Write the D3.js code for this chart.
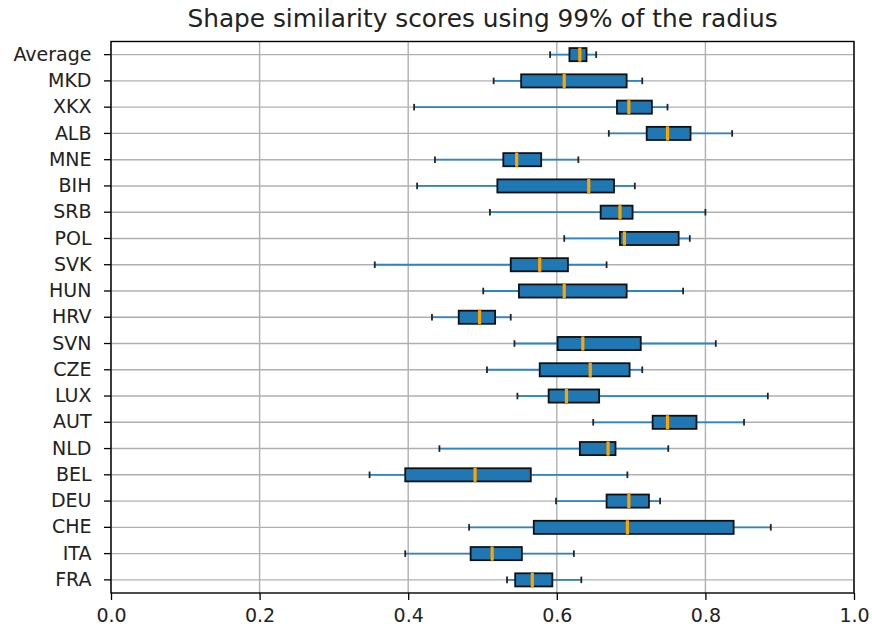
<!DOCTYPE html>
<html>
<head>
<meta charset="utf-8">
<script src="https://cdn.jsdelivr.net/npm/d3@7"></script>
<style>
  html, body { margin: 0; padding: 0; background: #fff; }
  svg { display: block; font-family: "DejaVu Sans", sans-serif; }
</style>
</head>
<body>
<svg id="chart" width="872" height="631"></svg>
<script>
// Countries, listed top to bottom
const categories = ["Average", "MKD", "XKX", "ALB", "MNE", "BIH", "SRB", "POL", "SVK", "HUN",
  "HRV", "SVN", "CZE", "LUX", "AUT", "NLD", "BEL", "DEU", "CHE", "ITA", "FRA"];

// Five-number summaries per country
const whiskerLow = [0.591, 0.515, 0.408, 0.670, 0.436, 0.412, 0.510, 0.610, 0.355, 0.501,
  0.432, 0.543, 0.506, 0.547, 0.649, 0.442, 0.348, 0.599, 0.482, 0.396, 0.533];
const q1 = [0.617, 0.552, 0.681, 0.721, 0.528, 0.520, 0.659, 0.685, 0.538, 0.549,
  0.468, 0.601, 0.577, 0.589, 0.729, 0.631, 0.396, 0.667, 0.569, 0.484, 0.544];
const medians = [0.631, 0.610, 0.697, 0.749, 0.546, 0.643, 0.685, 0.691, 0.577, 0.610,
  0.496, 0.635, 0.645, 0.613, 0.749, 0.669, 0.490, 0.697, 0.695, 0.513, 0.567];
const q3 = [0.640, 0.694, 0.728, 0.780, 0.579, 0.677, 0.702, 0.764, 0.615, 0.694,
  0.517, 0.713, 0.698, 0.657, 0.788, 0.679, 0.565, 0.724, 0.838, 0.553, 0.594];
const whiskerHigh = [0.653, 0.715, 0.749, 0.836, 0.629, 0.705, 0.800, 0.779, 0.667, 0.770,
  0.538, 0.814, 0.715, 0.884, 0.852, 0.750, 0.695, 0.739, 0.888, 0.623, 0.633];

const xTicks = [0, 0.2, 0.4, 0.6, 0.8, 1.0];
const titleText = "Shape similarity scores using 99% of the radius";

const rows = categories.map((c, i) => ({
  name: c, lo: whiskerLow[i], q1: q1[i], med: medians[i], q3: q3[i], hi: whiskerHigh[i]
}));

const margin = { left: 111, right: 18, top: 41.5, bottom: 38 };
const W = 872, H = 631;
const svg = d3.select("#chart");

const x = d3.scaleLinear().domain([0, 1]).range([margin.left, W - margin.right]);
const y = d3.scaleBand().domain(categories).range([margin.top, H - margin.bottom]).padding(0);
const step = y.step();
const cy = d => y(d) + step / 2;
const boxH = step * 0.5;
const capH = step * 0.25;

const plot = svg.append("g");

// Grid lines
plot.append("g").selectAll("line").data(xTicks).join("line")
  .attr("x1", d => x(d)).attr("x2", d => x(d))
  .attr("y1", margin.top).attr("y2", H - margin.bottom)
  .attr("stroke", "#b0b0b0").attr("stroke-width", 1.4);
plot.append("g").selectAll("line").data(categories).join("line")
  .attr("x1", margin.left).attr("x2", W - margin.right)
  .attr("y1", d => cy(d)).attr("y2", d => cy(d))
  .attr("stroke", "#b0b0b0").attr("stroke-width", 1.4);

const g = plot.append("g").selectAll("g").data(rows).join("g");

// Whiskers
g.append("line").attr("x1", d => x(d.lo)).attr("x2", d => x(d.q1))
  .attr("y1", d => cy(d.name)).attr("y2", d => cy(d.name))
  .attr("stroke", "#2a84c6").attr("stroke-width", 1.8);
g.append("line").attr("x1", d => x(d.q3)).attr("x2", d => x(d.hi))
  .attr("y1", d => cy(d.name)).attr("y2", d => cy(d.name))
  .attr("stroke", "#2a84c6").attr("stroke-width", 1.8);

// Caps
g.append("line").attr("x1", d => x(d.lo)).attr("x2", d => x(d.lo))
  .attr("y1", d => cy(d.name) - capH / 2).attr("y2", d => cy(d.name) + capH / 2)
  .attr("stroke", "#222").attr("stroke-width", 1.8);
g.append("line").attr("x1", d => x(d.hi)).attr("x2", d => x(d.hi))
  .attr("y1", d => cy(d.name) - capH / 2).attr("y2", d => cy(d.name) + capH / 2)
  .attr("stroke", "#222").attr("stroke-width", 1.8);

// Boxes
g.append("rect")
  .attr("x", d => x(d.q1)).attr("width", d => x(d.q3) - x(d.q1))
  .attr("y", d => cy(d.name) - boxH / 2).attr("height", boxH)
  .attr("fill", "#1f77b4").attr("stroke", "#111").attr("stroke-width", 1.8);

// Medians
g.append("line").attr("x1", d => x(d.med)).attr("x2", d => x(d.med))
  .attr("y1", d => cy(d.name) - boxH / 2 - 0.5).attr("y2", d => cy(d.name) + boxH / 2 + 0.5)
  .attr("stroke", "#ffa500").attr("stroke-width", 3.2);

// Axes
const xAxis = d3.axisBottom(x).tickValues(xTicks).tickFormat(d3.format(".1f"))
  .tickSize(7).tickPadding(9);
const yAxis = d3.axisLeft(y).tickSize(7).tickPadding(12.5);

const gx = svg.append("g").attr("transform", `translate(0,${H - margin.bottom})`).call(xAxis);
const gy = svg.append("g").attr("transform", `translate(${margin.left},0)`).call(yAxis);
[gx, gy].forEach(a => {
  a.select(".domain").remove();
  a.selectAll(".tick line").attr("stroke", "#000").attr("stroke-width", 1.3);
  a.selectAll(".tick text").attr("fill", "#222").style("font-size", "19px")
    .style("font-family", "'DejaVu Sans', sans-serif");
});

// Frame
svg.append("rect")
  .attr("x", margin.left).attr("y", margin.top)
  .attr("width", W - margin.right - margin.left).attr("height", H - margin.bottom - margin.top)
  .attr("fill", "none").attr("stroke", "#000").attr("stroke-width", 1.4);

// Title
svg.append("text")
  .attr("x", (x(0) + x(1)) / 2).attr("y", 27)
  .attr("text-anchor", "middle")
  .attr("fill", "#222")
  .style("font-size", "24.8px")
  .text(titleText);
</script>
</body>
</html>
